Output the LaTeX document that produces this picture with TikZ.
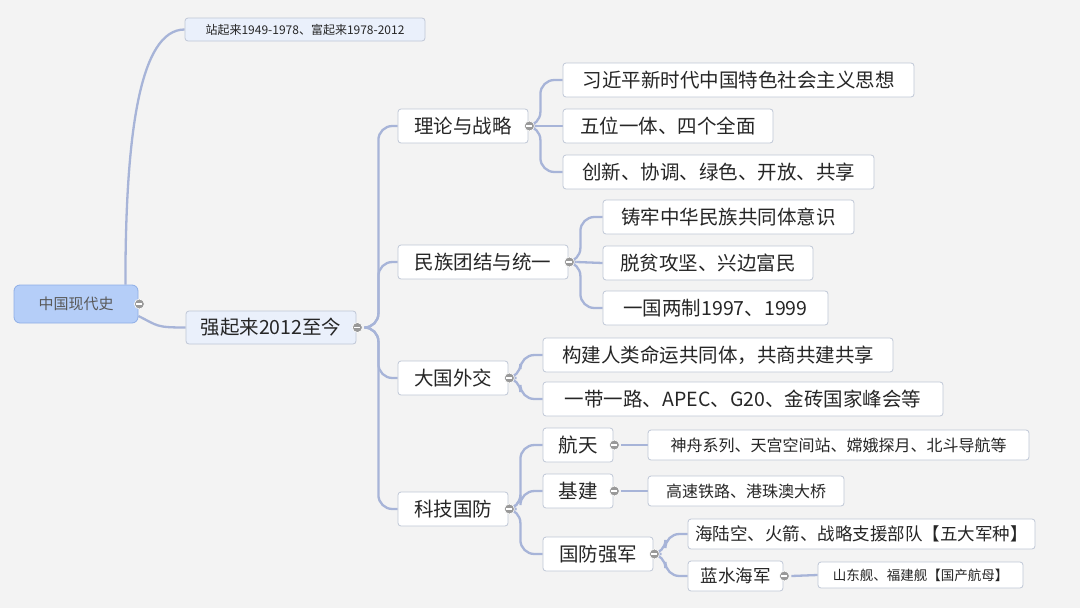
\documentclass[tikz,border=0pt]{standalone}
\usepackage{fontspec}
\setmainfont{Noto Sans CJK SC}
\usetikzlibrary{calc,backgrounds}
\definecolor{bg}{HTML}{F3F3F3}
\definecolor{ln}{HTML}{A7B4D8}
\definecolor{bd}{HTML}{BFC7D6}
\definecolor{rootf}{HTML}{B5CEF8}
\definecolor{rootd}{HTML}{8EAEE6}
\definecolor{lf}{HTML}{EAF0FB}
\tikzset{
 box/.style={draw=bd,fill=white,rounded corners=3pt,line width=0.8pt,inner sep=0pt,font=\fontsize{19.5}{21}\selectfont,text=black!85},
 conn/.style={draw=ln,line width=2.3pt,rounded corners=14pt},
 minus/.style={circle,fill=black!40,draw=white,line width=0.6pt,inner sep=0pt,minimum size=10pt,path picture={\draw[white,line width=1.5pt] ([xshift=-3pt]path picture bounding box.center)--([xshift=3pt]path picture bounding box.center);}}
}
\newcommand\bx[7][]{\node[box,minimum width=#4-#3,minimum height=#6-#5,#1] (#2) at ({(#3+#4)/2},{(#5+#6)/2}) {#7};}
\newcommand\edge[3]{\draw[conn] ($(#1.east)+(8,0)$) -- ++(#3,0) |- (#2.west);}
\newcommand\sedge[2]{\draw[conn] ($(#1.east)+(8,0)$) -- (#2.west);}
\newcommand\mn[1]{\node[minus] at ($(#1.east)+(1,0)$) {};}
\begin{document}
\begin{tikzpicture}[x=1pt,y=-1pt]
\useasboundingbox (0,0) rectangle (1080,608);
\bx[fill=rootf,draw=rootd,font=\fontsize{15}{17}\selectfont,text=black!65,rounded corners=6pt]{root}{14}{138}{285}{323}{中国现代史}
\bx[fill=lf,font=\fontsize{12}{14}\selectfont]{top}{185}{425}{18}{41}{站起来1949-1978、富起来1978-2012}
\bx[fill=lf]{q}{186}{356}{311}{344}{强起来2012至今}
\bx{a}{398}{528}{109}{143}{理论与战略}
\bx{b}{398}{568}{245}{279}{民族团结与统一}
\bx{c}{398}{508}{361}{395}{大国外交}
\bx{d}{398}{508}{492}{526}{科技国防}
\bx{a1}{563}{914}{63}{97}{习近平新时代中国特色社会主义思想}
\bx{a2}{563}{773}{109}{143}{五位一体、四个全面}
\bx{a3}{563}{874}{155}{189}{创新、协调、绿色、开放、共享}
\bx{b1}{603}{854}{200}{234}{铸牢中华民族共同体意识}
\bx{b2}{603}{813}{246}{280}{脱贫攻坚、兴边富民}
\bx{b3}{603}{828}{291}{325}{一国两制1997、1999}
\bx{c1}{543}{893}{338}{372}{构建人类命运共同体，共商共建共享}
\bx{c2}{543}{943}{382}{416}{一带一路、APEC、G20、金砖国家峰会等}
\bx{d1}{543}{613}{428}{462}{航天}
\bx{d2}{543}{613}{474}{508}{基建}
\bx{d3}{543}{653}{537}{571}{国防强军}
\bx[font=\fontsize{16}{18}\selectfont]{e1}{648}{1029}{430}{460}{神舟系列、天宫空间站、嫦娥探月、北斗导航等}
\bx[font=\fontsize{16}{18}\selectfont]{e2}{648}{844}{476}{506}{高速铁路、港珠澳大桥}
\bx[font=\fontsize{17.5}{19}\selectfont]{f1}{688}{1035}{519}{549}{海陆空、火箭、战略支援部队【五大军种】}
\bx[font=\fontsize{17.5}{19}\selectfont]{f2}{688}{783}{561}{591}{蓝水海军}
\bx[font=\fontsize{13.5}{15}\selectfont]{g1}{818}{1023}{562}{588}{山东舰、福建舰【国产航母】}
\begin{pgfonlayer}{background}
\fill[bg] (0,0) rectangle (1080,608);
\draw[conn,rounded corners=0pt] ($(root.north east)+(-13,0)$) .. controls ($(root.north east)+(-13,-150)$) and ($(top.west)+(-45,0)$) .. (top.west);
\draw[conn,rounded corners=0pt] ($(root.east)+(0,12)$) .. controls ($(root.east)+(20,22)$) and ($(q.west)+(-30,0)$) .. (q.west);
\edge{q}{a}{14}\edge{q}{b}{14}\edge{q}{c}{14}\edge{q}{d}{14}
\edge{a}{a1}{4}\sedge{a}{a2}\edge{a}{a3}{4}
\edge{b}{b1}{4}\sedge{b}{b2}\edge{b}{b3}{4}
\begin{scope}[rounded corners=9pt]
\edge{c}{c1}{4}\edge{c}{c2}{4}
\edge{d3}{f1}{4}\edge{d3}{f2}{4}
\end{scope}
\edge{d}{d1}{4}\edge{d}{d2}{4}\edge{d}{d3}{4}
\sedge{d1}{e1}\sedge{d2}{e2}
\sedge{f2}{g1}
\end{pgfonlayer}
\foreach \n in {root,q,a,b,c,d,d1,d2,d3,f2}{\mn{\n}}
\end{tikzpicture}
\end{document}
